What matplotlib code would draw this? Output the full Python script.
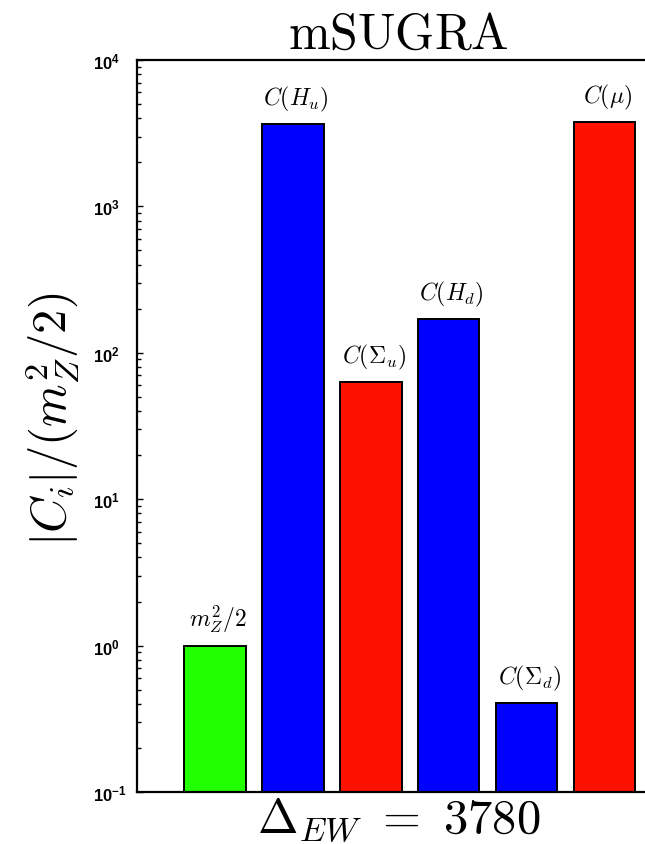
import numpy as np
import matplotlib
matplotlib.use("Agg")
import matplotlib.pyplot as plt

# contributions
labels = [r'$m_Z^2/2$', r'$C(H_u)$', r'$C(\Sigma_u)$', r'$C(H_d)$', r'$C(\Sigma_d)$', r'$C(\mu)$']
values = [1.0, 3650., 63., 170., 0.405, 3780.]
colors = ['#22ff00', '#0000ff', '#ff1100', '#0000ff', '#0000ff', '#ff1100']
delta_ew = 3780
yticks = [0.1, 1, 10, 100, 1000, 10000]

plt.rcParams['font.family'] = ['Liberation Sans', 'DejaVu Sans']
plt.rcParams['mathtext.fontset'] = 'custom'
plt.rcParams['mathtext.rm'] = 'Liberation Sans'
plt.rcParams['mathtext.bf'] = 'Liberation Sans:bold'

fig = plt.figure(figsize=(6.45, 8.45), dpi=100)
ax = fig.add_axes([137/645., 1-793/845., 1-137/645., (793-61)/845.])

pos = np.arange(1, len(values)+1)
ax.bar(pos, values, width=0.79, color=colors, edgecolor='black', linewidth=1.4)

for x, v, lab in zip(pos, values, labels):
    ax.annotate(lab, (x, v), xytext=(2, 8), textcoords='offset points',
                ha='center', va='bottom', fontsize=17, math_fontfamily='cm')

ax.set_yscale('log')
ax.set_ylim(0.1, 1e4)
ax.set_xlim(0.0, 6.52)
ax.set_xticks([])
ax.set_yticks(yticks)
ax.set_yticklabels([r'$\mathbf{10^{%d}}$' % int(np.log10(t)) for t in yticks])
plt.setp(ax.get_yticklabels(), ha='left')
ax.spines['right'].set_visible(False)
for s in ['left', 'top', 'bottom']:
    ax.spines[s].set_linewidth(1.6)
ax.tick_params(axis='y', which='both', direction='in', right=False, labelsize=12)
ax.tick_params(axis='y', which='major', length=4, width=1)
ax.tick_params(axis='y', which='minor', length=3, width=1)
ax.yaxis.set_tick_params(pad=32)

ax.set_title(r'$\mathrm{mSUGRA}$', fontsize=36, math_fontfamily='cm', pad=9, x=0.515)
ax.set_xlabel(r'$\Delta_{EW}\ =\ %d$' % delta_ew, fontsize=35, math_fontfamily='cm')
ax.xaxis.set_label_coords(0.515, -0.005)
ax.xaxis.label.set_va('top')
ax.set_ylabel(r'$|C_i|/(m_Z^2/2)$', fontsize=35, math_fontfamily='cm')
ax.yaxis.set_label_coords(-0.11, 0.51)

fig.savefig('out.png', dpi=100)
